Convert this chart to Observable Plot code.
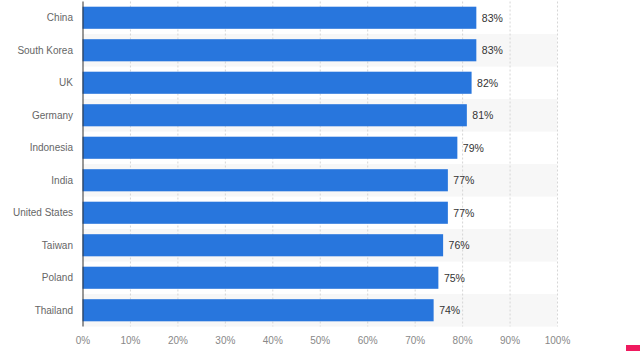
<!DOCTYPE html>
<html>
<head>
<meta charset="utf-8">
<script src="https://cdn.jsdelivr.net/npm/d3@7"></script>
<script src="https://cdn.jsdelivr.net/npm/@observablehq/plot@0.6"></script>
<style>
  html, body { margin: 0; padding: 0; background: #fff; overflow: hidden; }
  #wrap { position: relative; width: 640px; height: 351px; }
  #corner { position: absolute; right: 0; bottom: 0; width: 14px; height: 6px; background: #ef1a5f; }
</style>
</head>
<body>
<div id="wrap"><div id="corner"></div></div>
<script>
const countries = ["China", "South Korea", "UK", "Germany", "Indonesia", "India", "United States", "Taiwan", "Poland", "Thailand"];
const values = [83, 83, 82, 81, 79, 77, 77, 76, 75, 74];
const xTicks = [0, 10, 20, 30, 40, 50, 60, 70, 80, 90, 100];
const axisTitle = "Share of respondents";

const data = countries.map((c, i) => ({country: c, value: values[i]}));
const stripeRows = countries.filter((c, i) => i % 2 === 1);

const font = "'Liberation Sans', Arial, sans-serif";

const chart = Plot.plot({
  width: 640,
  height: 351,
  marginLeft: 82.5,
  marginRight: 83,
  marginTop: 1.5,
  marginBottom: 24.5,
  style: {fontFamily: font, fontSize: "10px", background: "#fff"},
  x: {domain: [0, 100], axis: null},
  y: {domain: countries, axis: null, paddingInner: 0.32, paddingOuter: 0.16, round: false},
  marks: [
    Plot.barX(stripeRows, {x1: 0, x2: 100, y: d => d, fill: "#f7f7f7", insetTop: -5.3, insetBottom: -5.3}),
    Plot.ruleX(xTicks.filter(t => t > 0), {x: d => d, stroke: "#d6d6d6", strokeDasharray: "2,2"}),
    Plot.barX(data, {x: "value", y: "country", fill: "#2876dd"}),
    Plot.ruleX([0], {stroke: "#333", strokeWidth: 1}),
    Plot.text(data, {x: "value", y: "country", text: d => d.value + "%", textAnchor: "start", dx: 5, fill: "#333", fontSize: 10.5}),
    Plot.text(countries, {x: 0, y: d => d, text: d => d, textAnchor: "end", dx: -10, fill: "#666", fontSize: 10}),
    Plot.text(xTicks, {x: d => d, frameAnchor: "bottom", dy: 16.5, text: d => d + "%", textAnchor: d => d === 100 ? "end" : "middle", fill: "#888", fontSize: 10}),
    Plot.text([axisTitle], {frameAnchor: "bottom", dy: 33, text: d => d, fill: "#999", fontSize: 10})
  ]
});
document.getElementById("wrap").prepend(chart);
</script>
</body>
</html>
